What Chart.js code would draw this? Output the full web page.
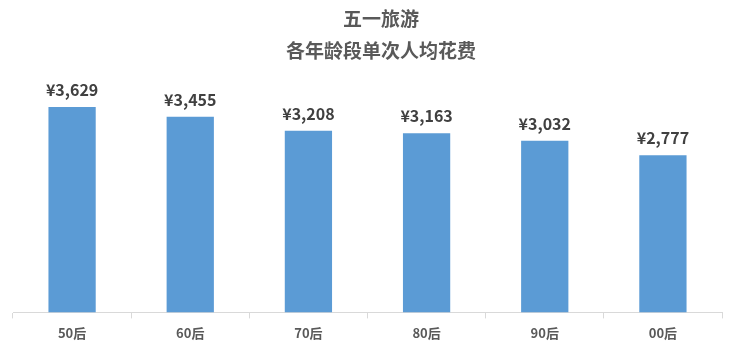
<!DOCTYPE html>
<html>
<head>
<meta charset="utf-8">
<script src="https://cdn.jsdelivr.net/npm/chart.js@4"></script>
<style>
  html, body { margin: 0; padding: 0; background: #fff; }
  #wrap { width: 733px; height: 352px; }
</style>
</head>
<body>
<div id="wrap"><canvas id="chart"></canvas></div>
<script>
const categories = ["50后", "60后", "70后", "80后", "90后", "00后"];
const spending = [3629, 3455, 3208, 3163, 3032, 2777];
const titleLines = ["五一旅游", "各年龄段单次人均花费"];

const FONT = "'Noto Sans CJK SC', 'Noto Sans', sans-serif";

// title drawn by hand: the original is centred a bit right of the plot
const titleText = {
  id: "titleText",
  afterDraw(chart) {
    const ctx = chart.ctx;
    ctx.save();
    ctx.font = "bold 19px " + FONT;
    ctx.fillStyle = "#595959";
    ctx.textAlign = "center";
    ctx.textBaseline = "middle";
    ctx.fillText(titleLines[0], 381, 19);
    ctx.fillText(titleLines[1], 381, 51);
    ctx.restore();
  },
};

const valueLabels = {
  id: "valueLabels",
  afterDatasetsDraw(chart) {
    const ctx = chart.ctx;
    const meta = chart.getDatasetMeta(0);
    ctx.save();
    ctx.font = "bold 16px " + FONT;
    ctx.fillStyle = "#404040";
    ctx.textAlign = "center";
    ctx.textBaseline = "bottom";
    meta.data.forEach((bar, i) => {
      ctx.fillText("¥" + spending[i].toLocaleString("en-US"), bar.x, bar.y - 9);
    });
    ctx.restore();
  },
};

new Chart(document.getElementById("chart"), {
  type: "bar",
  data: {
    labels: categories,
    datasets: [
      {
        data: spending,
        backgroundColor: "#5b9bd5",
        categoryPercentage: 1,
        barPercentage: 0.4,
      },
    ],
  },
  options: {
    responsive: true,
    maintainAspectRatio: false,
    animation: false,
    layout: { padding: { left: 13, right: 11, top: 86, bottom: 4 } },
    plugins: {
      legend: { display: false },
      tooltip: { enabled: false },
      title: { display: false },
    },
    scales: {
      y: { display: false, min: 0, max: 4000 },
      x: {
        grid: {
          offset: true,
          drawOnChartArea: false,
          drawTicks: true,
          tickLength: 6,
          color: "#d9d9d9",
        },
        border: { color: "#d9d9d9" },
        ticks: {
          color: "#595959",
          font: { family: FONT, size: 13, weight: "bold" },
          padding: 7,
        },
      },
    },
  },
  plugins: [valueLabels, titleText],
});
</script>
</body>
</html>
